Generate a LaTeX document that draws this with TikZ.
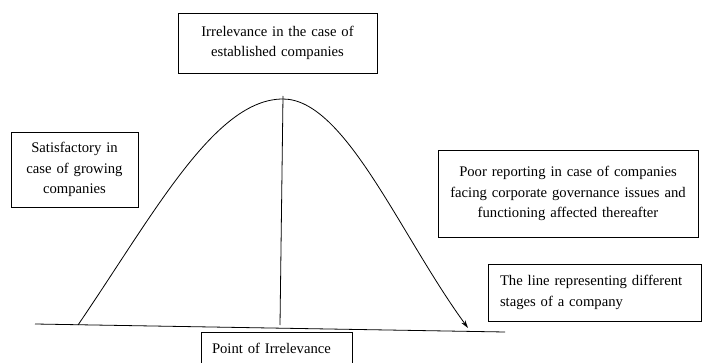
\documentclass[tikz,border=0pt]{standalone}
\usepackage{fontspec}
\setmainfont{Liberation Serif}
\usetikzlibrary{arrows.meta}
\newlength\px
\setlength\px{0.75pt}
\tikzset{
  infobox/.style={draw, line width=0.6pt, inner sep=0pt, align=center,
    font=\fontsize{11}{15.5}\selectfont},
  stageline/.style={line width=0.6pt},
}
\begin{document}
\begin{tikzpicture}[x=0.75pt, y=-0.75pt]
      \useasboundingbox (0,0) rectangle (702,363);
      \draw
        (277.5,43) node[infobox, minimum width=199\px, minimum height=60\px, text width=185\px] (top){Irrelevance in the case of\\established companies}
        (74.5,169.5) node[infobox, minimum width=127\px, minimum height=75\px, text width=115\px] (growing){Satisfactory in\\case of growing\\companies}
        (568,193.5) node[infobox, minimum width=260\px, minimum height=87\px, text width=248\px] (poor){Poor reporting in case of companies\\facing corporate governance issues and\\functioning affected thereafter}
        (594.5,292.5) node[infobox, align=left, minimum width=213\px, minimum height=57\px, text width=189\px] (stages){The line representing different\\stages of a company}
        (276.5,348.5) node[infobox, align=left, minimum width=151\px, minimum height=33\px, text width=129\px] (point){Point of Irrelevance};
      \coordinate (base0) at (35,324);
      \coordinate (base1) at (505,332);
      \coordinate (rise) at (78,325);
      \coordinate (peak) at (283,99);
      \coordinate (fall) at (468,328);
      \coordinate (axis0) at (283,96);
      \coordinate (axis1) at (280,325);
      \begin{scope}[stageline]
        \draw (base0) to (base1);
        \draw (axis0) to (axis1);
        \draw[-{Stealth[length=6pt,width=3.5pt]}] (rise) .. controls (155,212) and (215,99) .. (peak)
          .. controls (345,99) and (400,235) .. (fall);
      \end{scope}
    \end{tikzpicture}
\end{document}
